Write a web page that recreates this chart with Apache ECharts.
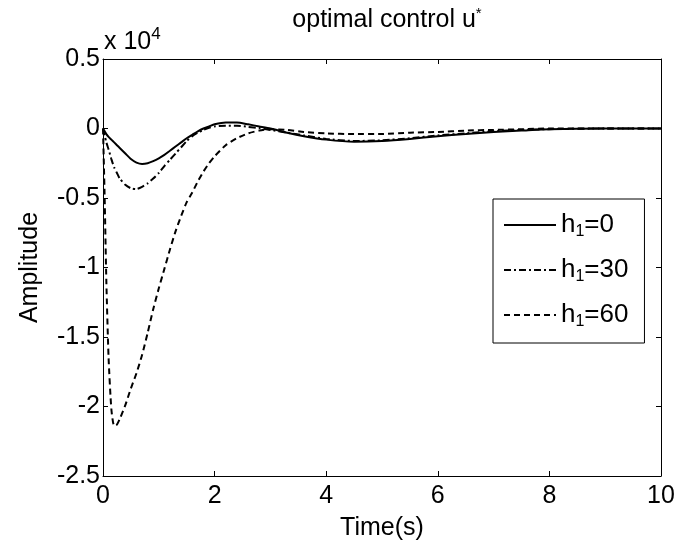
<!DOCTYPE html>
<html>
<head>
<meta charset="utf-8">
<title>optimal control u*</title>
<script src="https://cdn.jsdelivr.net/npm/echarts@6/dist/echarts.min.js"></script>
<style>
  html, body { margin: 0; padding: 0; background: #fff; }
  #main { width: 678px; height: 546px; }
</style>
</head>
<body>
<div id="main"></div>
<script>
// 时间轴 (s)
const timeS = [0, 0.03, 0.06, 0.1, 0.15, 0.2, 0.25, 0.3, 0.4, 0.5, 0.6, 0.7, 0.8, 0.9, 1.0,
  1.1, 1.2, 1.3, 1.4, 1.5, 1.6, 1.7, 1.8, 1.9, 2.0, 2.2, 2.4, 2.6, 2.8, 3.0,
  3.3, 3.6, 4.0, 4.5, 5.0, 5.5, 6.0, 6.5, 7.0, 7.5, 8.0, 9.0, 10.0];

// 幅值，单位 x 10^4
const ampH0 = [0, -0.02, -0.04, -0.06, -0.08, -0.10, -0.12, -0.14, -0.18, -0.22, -0.245, -0.255, -0.25, -0.235, -0.215,
  -0.19, -0.16, -0.13, -0.10, -0.07, -0.045, -0.02, 0.0, 0.015, 0.03, 0.043, 0.043, 0.03, 0.015, 0.0,
  -0.03, -0.055, -0.08, -0.095, -0.09, -0.075, -0.055, -0.04, -0.025, -0.015, -0.005, 0, 0];
const ampH30 = [0, -0.05, -0.10, -0.15, -0.22, -0.28, -0.32, -0.36, -0.405, -0.43, -0.435, -0.42, -0.395, -0.36, -0.32,
  -0.27, -0.225, -0.18, -0.135, -0.09, -0.055, -0.03, -0.01, 0.005, 0.015, 0.02, 0.02, 0.012, 0.003, -0.01,
  -0.03, -0.05, -0.075, -0.09, -0.085, -0.07, -0.05, -0.035, -0.02, -0.01, -0.005, 0, 0];
const ampH60 = [0, -0.5, -1.1, -1.65, -2.02, -2.14, -2.13, -2.09, -1.99, -1.87, -1.76, -1.63, -1.47, -1.30, -1.15,
  -1.01, -0.87, -0.74, -0.63, -0.53, -0.46, -0.38, -0.31, -0.25, -0.20, -0.12, -0.07, -0.035, -0.015, -0.005,
  -0.01, -0.025, -0.035, -0.04, -0.04, -0.03, -0.025, -0.015, -0.01, -0.005, 0, 0, 0];

const seriesNames = ['h1=0', 'h1=30', 'h1=60'];
const xTicks = { min: 0, max: 10, interval: 2 };
const yTicks = { min: -2.5, max: 0.5, interval: 0.5 };

const font = 'Liberation Sans, Arial, sans-serif';
const fs = 25;

function pairs(ys) {
  return timeS.map(function (t, i) { return [t, ys[i]]; });
}

const myChart = echarts.init(document.getElementById('main'));

const axisLine = { show: true, onZero: false, lineStyle: { color: '#000', width: 1 } };
const tick = { show: true, inside: true, length: 5, lineStyle: { color: '#000' } };

const option = {
  backgroundColor: '#fff',
  animation: false,
  title: {
    text: 'optimal control u{sup|*}',
    left: 382,
    textAlign: 'center',
    top: 1,
    textStyle: {
      fontFamily: font, fontSize: fs, fontWeight: 'normal', color: '#000',
      rich: { sup: { fontFamily: font, fontSize: 15, color: '#000', padding: [0, 0, 14, 0] } }
    }
  },
  graphic: [{
    type: 'text',
    left: 104,
    top: 26,
    style: {
      text: 'x 10{sup|4}',
      fontFamily: font, fontSize: fs, fill: '#000',
      rich: { sup: { fontFamily: font, fontSize: 17, fill: '#000', padding: [0, 0, 16, 0] } }
    }
  }],
  legend: {
    data: seriesNames,
    orient: 'vertical',
    left: 493,
    top: 199,
    padding: [13, 16, 13, 10],
    itemGap: 17,
    itemWidth: 52,
    itemHeight: 14,
    borderColor: '#000',
    borderWidth: 1,
    backgroundColor: '#fff',
    itemStyle: { opacity: 0 },
    formatter: function (name) {
      return '{a|h}{s|1}{a|=' + name.split('=')[1] + '}';
    },
    textStyle: {
      color: '#000',
      rich: {
        a: { fontFamily: font, fontSize: 26, color: '#000' },
        s: { fontFamily: font, fontSize: 16, color: '#000', padding: [14, 0, 0, 0] }
      }
    }
  },
  grid: { left: 103, right: 17, top: 59, bottom: 66 },
  xAxis: [{
    type: 'value',
    min: xTicks.min, max: xTicks.max, interval: xTicks.interval,
    name: 'Time(s)',
    nameLocation: 'middle',
    nameGap: 40,
    nameTextStyle: { fontFamily: font, fontSize: fs, color: '#000' },
    axisLine: axisLine, axisTick: tick,
    axisLabel: { fontFamily: font, fontSize: fs, color: '#000', margin: 8 },
    splitLine: { show: false }
  }, {
    type: 'value', position: 'top',
    min: xTicks.min, max: xTicks.max, interval: xTicks.interval,
    axisLine: axisLine, axisTick: tick, axisLabel: { show: false }, splitLine: { show: false }
  }],
  yAxis: [{
    type: 'value',
    min: yTicks.min, max: yTicks.max, interval: yTicks.interval,
    name: 'Amplitude',
    nameLocation: 'middle',
    nameGap: 60,
    nameTextStyle: { fontFamily: font, fontSize: fs, color: '#000' },
    axisLine: axisLine, axisTick: tick,
    axisLabel: { fontFamily: font, fontSize: fs, color: '#000', margin: 3 },
    splitLine: { show: false }
  }, {
    type: 'value', position: 'right',
    min: yTicks.min, max: yTicks.max, interval: yTicks.interval,
    axisLine: axisLine, axisTick: tick, axisLabel: { show: false }, splitLine: { show: false }
  }],
  series: [{
    name: seriesNames[0], type: 'line', data: pairs(ampH0),
    showSymbol: false, symbol: 'none', smooth: 0.2,
    itemStyle: { color: '#000' },
    lineStyle: { color: '#000', width: 2, type: 'solid' }
  }, {
    name: seriesNames[1], type: 'line', data: pairs(ampH30),
    showSymbol: false, symbol: 'none', smooth: 0.2,
    itemStyle: { color: '#000' },
    lineStyle: { color: '#000', width: 2, type: [7, 3, 2, 3] }
  }, {
    name: seriesNames[2], type: 'line', data: pairs(ampH60),
    showSymbol: false, symbol: 'none', smooth: 0.2,
    itemStyle: { color: '#000' },
    lineStyle: { color: '#000', width: 2, type: [6, 4] }
  }]
};

myChart.setOption(option);
</script>
</body>
</html>
